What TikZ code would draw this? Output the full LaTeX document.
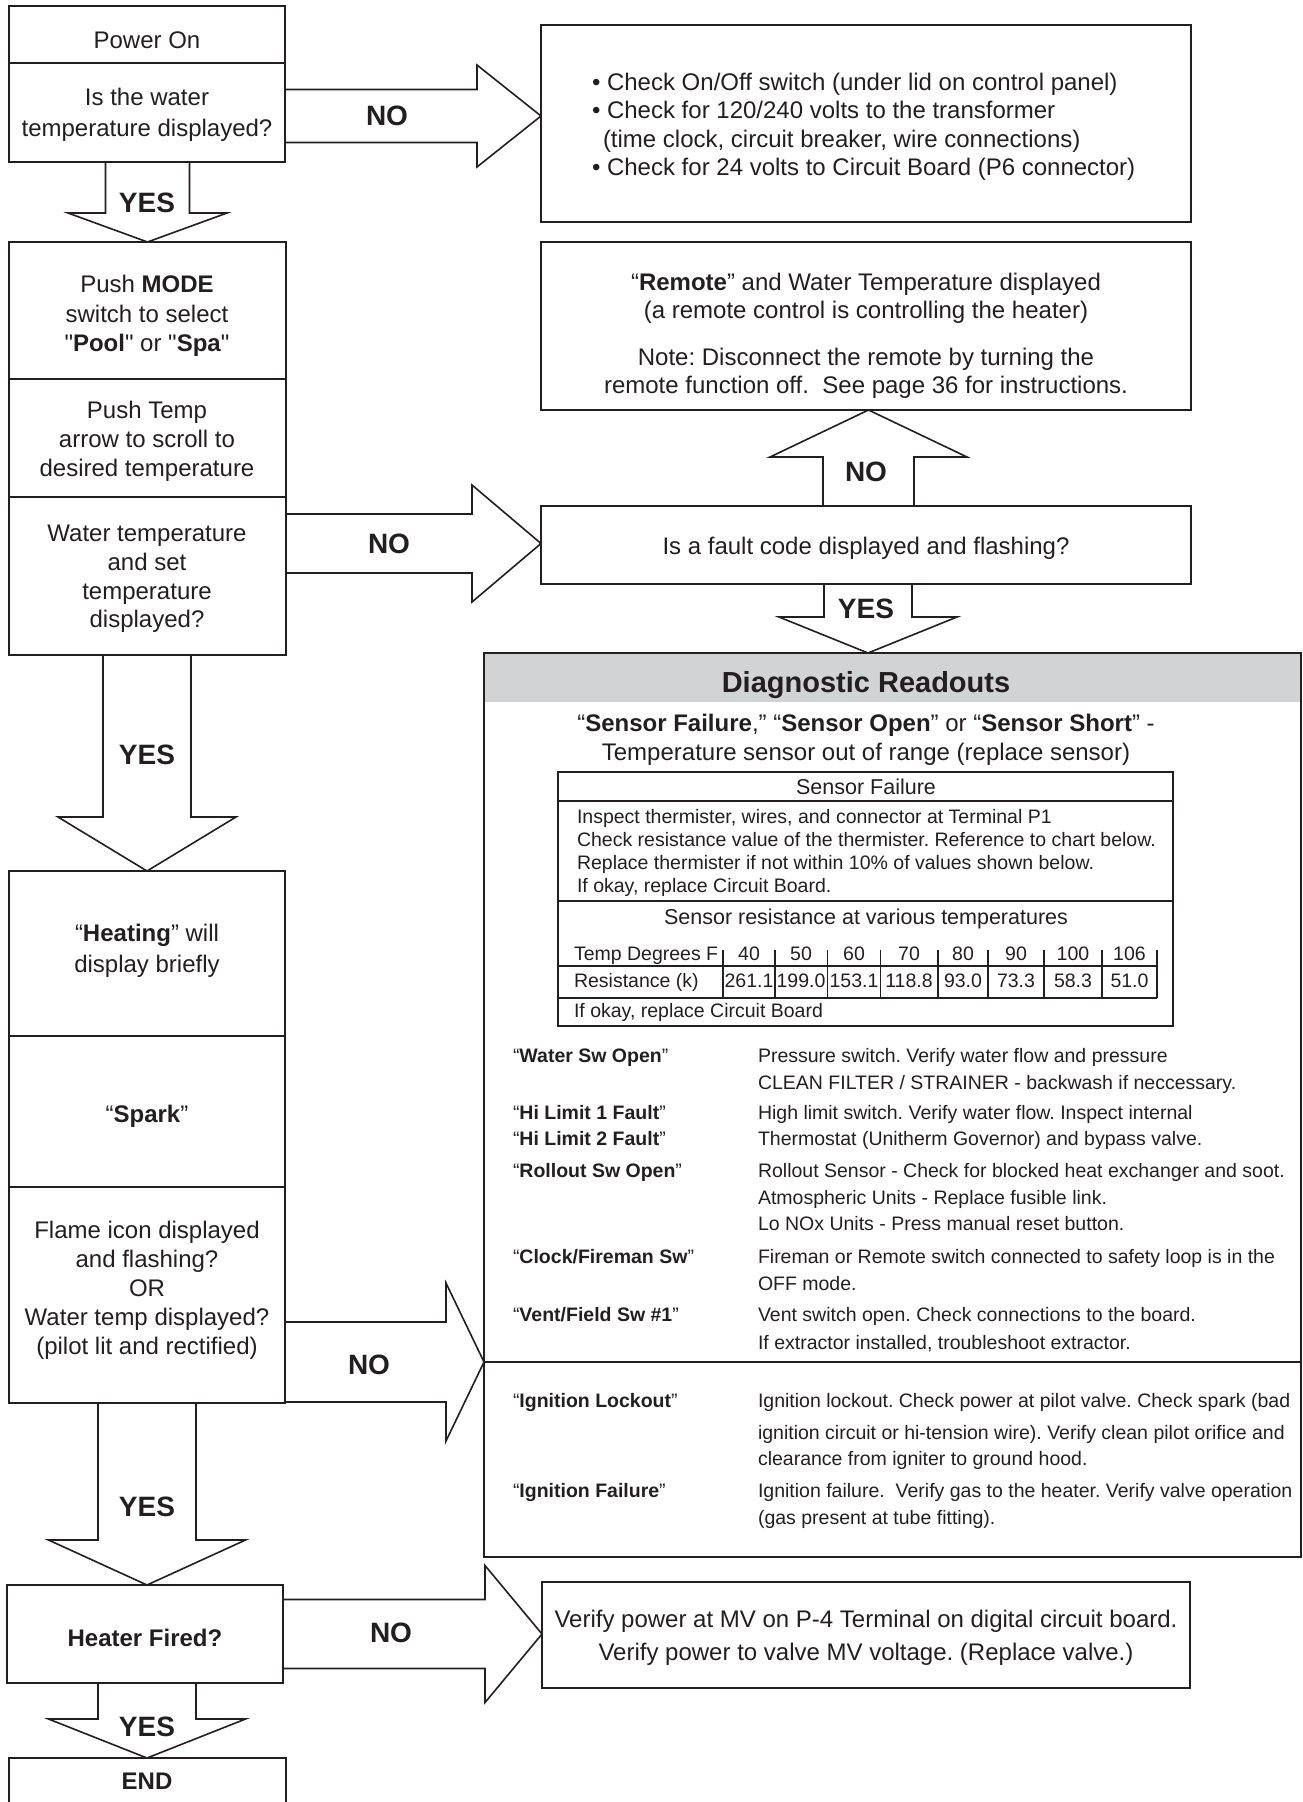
\documentclass[tikz,border=0pt]{standalone}
\usepackage{fontspec}
\setmainfont{Liberation Sans}
\newfontfamily\qfont{Liberation Sans}
\usetikzlibrary{calc,backgrounds}
\definecolor{ink}{HTML}{231F20}
\definecolor{hdr}{HTML}{D1D3D4}
\frenchspacing
\tikzset{
  cellst/.style={draw=ink, line width=2pt, inner sep=0pt, outer sep=0pt},
  tblst/.style={draw=ink, line width=1.5pt, inner sep=0pt, outer sep=0pt},
  tbl/.style={draw=ink, line width=1.4pt},
  arr/.style={draw=ink, fill=white, line width=1.6pt, line join=miter},
  tx/.style={inner sep=0pt, outer sep=0pt, text=ink, font=\fontsize{24}{29}\selectfont},
  lb/.style={inner sep=0pt, outer sep=0pt, text=ink, font=\bfseries\fontsize{28}{32}\selectfont},
  sm/.style={inner sep=0pt, outer sep=0pt, text=ink, font=\fontsize{19.5}{23}\selectfont},
  md/.style={inner sep=0pt, outer sep=0pt, text=ink, font=\fontsize{21.5}{25}\selectfont},
}
\newcommand{\cellbox}[6][cellst]{\node[#1,minimum width={(#5-#3)*1pt},minimum height={(#6-#4)*1pt}] (#2) at ({(#3+#5)/2},{(#4+#6)/2}) {};}
% block arrows: start, tip, shaft half width, head half width, head length
\newcommand{\ArrR}[5]{\path[arr] let \p1=(#1), \p2=(#2) in (\x1,\y2+#3pt) -- (\x2-#5pt,\y2+#3pt) -- (\x2-#5pt,\y2+#4pt) -- (\x2,\y2) -- (\x2-#5pt,\y2-#4pt) -- (\x2-#5pt,\y2-#3pt) -- (\x1,\y2-#3pt);}
\newcommand{\ArrD}[5]{\path[arr] let \p1=(#1), \p2=(#2) in (\x2-#3pt,\y1) -- (\x2-#3pt,\y2+#5pt) -- (\x2-#4pt,\y2+#5pt) -- (\x2,\y2) -- (\x2+#4pt,\y2+#5pt) -- (\x2+#3pt,\y2+#5pt) -- (\x2+#3pt,\y1);}
\newcommand{\ArrU}[5]{\path[arr] let \p1=(#1), \p2=(#2) in (\x2-#3pt,\y1) -- (\x2-#3pt,\y2-#5pt) -- (\x2-#4pt,\y2-#5pt) -- (\x2,\y2) -- (\x2+#4pt,\y2-#5pt) -- (\x2+#3pt,\y2-#5pt) -- (\x2+#3pt,\y1);}
\begin{document}
\frenchspacing
\begin{tikzpicture}[x=1pt,y=-1pt]
\begin{scope}[on background layer]
\fill[white] (0,0) rectangle (1303,1802);
\end{scope}
\useasboundingbox (0,0) rectangle (1303,1802);

% ---------- boxes ----------
\cellbox{pwr}{9}{6}{285}{63}
\cellbox{q1}{9}{63}{285}{162}
\cellbox{mode}{9}{242}{286}{379}
\cellbox{tmp}{9}{379}{286}{497}
\cellbox{q3}{9}{497}{286}{655}
\cellbox{heat}{9}{871}{285}{1036}
\cellbox{spark}{9}{1036}{285}{1187}
\cellbox{flame}{9}{1187}{285}{1403}
\cellbox{heater}{7}{1585}{283}{1683}
\cellbox{endb}{9}{1758}{286}{1825}
\cellbox{chk}{541}{25}{1191}{222}
\cellbox{remote}{541}{242}{1191}{410}
\cellbox{fault}{541}{506}{1191}{584}
\node[fill=hdr, inner sep=0pt, outer sep=0pt, minimum width=817pt, minimum height=49pt] (dhead) at (892.5,677.5) {};
\cellbox{diag}{484}{653}{1301}{1557}
\cellbox{verify}{542}{1582}{1190}{1688}
\cellbox[tblst]{sft}{558}{772}{1173}{1026}
\draw[cellst] (diag.west |- 0,1362) -- (diag.east |- 0,1362);

% table grid
\draw[tbl] (sft.west |- 0,801) -- (sft.east |- 0,801);
\draw[tbl] (sft.west |- 0,901) -- (sft.east |- 0,901);
\draw[tbl] (sft.west |- 0,966) -- (1157,966);
\draw[tbl] (sft.west |- 0,998) -- (1157,998);
\foreach \xx in {723,775,827.5,880.5,938,988,1044,1102,1157} {\draw[tbl] (\xx,950) -- (\xx,998);}

% ---------- block arrows ----------
\begin{scope}[on background layer]
\ArrR{q1.east}{chk.west |- 0,116}{26.5}{51}{64}
\ArrD{q1.south}{mode.north}{42}{79.5}{29}
\ArrR{q3.east}{fault.west |- 0,543.5}{29.5}{58.5}{69}
\ArrU{fault.north}{remote.south -| 868.5,0}{45.5}{98.5}{47}
\ArrD{fault.south}{diag.north -| 868,0}{44}{89}{36}
\ArrD{q3.south}{heat.north -| 147,0}{44}{89}{54}
\ArrR{flame.east}{diag.west |- 0,1362}{40}{79}{38}
\ArrD{flame.south}{heater.north -| 147,0}{49}{98.5}{45}
\ArrR{heater.east}{verify.west |- 0,1634}{34.5}{68.5}{57}
\ArrD{heater.south}{endb.north -| 147,0}{49}{98.5}{39}
\end{scope}

% ---------- arrow labels ----------
\node[lb, anchor=base] (lno1) at (387,125) {NO};
\node[lb, anchor=base] (lyes1) at (147,212) {YES};
\node[lb, anchor=base] (lno2) at (389,553) {NO};
\node[lb, anchor=base] (lnoup) at (866,481) {NO};
\node[lb, anchor=base] (lyesf) at (866,618) {YES};
\node[lb, anchor=base] (lyes2) at (147,764) {YES};
\node[lb, anchor=base] (lno3) at (369,1374) {NO};
\node[lb, anchor=base] (lyes3) at (147,1516) {YES};
\node[lb, anchor=base] (lno4) at (391,1642) {NO};
\node[lb, anchor=base] (lyes4) at (147,1736) {YES};

% ---------- left column texts ----------
\node[tx, anchor=base] (t1) at (147,48) {Power On};
\node[tx, anchor=base] (t2) at (147,105) {Is the water};
\node[tx, anchor=base] (t3) at (147,136) {temperature displayed?};
\node[tx, anchor=base] (t4) at (147,292) {Push \textbf{MODE}};
\node[tx, anchor=base] (t5) at (147,322) {switch to select};
\node[tx, anchor=base] (t6) at (147,351) {{\qfont"}\textbf{Pool}{\qfont"} or {\qfont"}\textbf{Spa}{\qfont"}};
\node[tx, anchor=base] (t7) at (147,418) {Push Temp};
\node[tx, anchor=base] (t8) at (147,447) {arrow to scroll to};
\node[tx, anchor=base] (t9) at (147,476) {desired temperature};
\node[tx, anchor=base] (t10) at (147,541) {Water temperature};
\node[tx, anchor=base] (t11) at (147,570) {and set};
\node[tx, anchor=base] (t12) at (147,599) {temperature};
\node[tx, anchor=base] (t13) at (147,627) {displayed?};
\node[tx, anchor=base] (t14) at (147,941) {“\textbf{Heating}” will};
\node[tx, anchor=base] (t15) at (147,972) {display briefly};
\node[tx, anchor=base] (t16) at (147,1122) {“\textbf{Spark}”};
\node[tx, anchor=base] (t17) at (147,1238) {Flame icon displayed};
\node[tx, anchor=base] (t18) at (147,1267) {and flashing?};
\node[tx, anchor=base] (t19) at (147,1296) {OR};
\node[tx, anchor=base] (t20) at (147,1325) {Water temp displayed?};
\node[tx, anchor=base] (t21) at (147,1354) {(pilot lit and rectified)};
\node[tx, anchor=base] (t22) at (145,1646) {\textbf{Heater Fired?}};
\node[tx, anchor=base] (t23) at (147,1789) {\textbf{END}};

% ---------- right texts ----------
\node[tx, anchor=base west] (r1) at (592,90) {• Check On/Off switch (under lid on control panel)};
\node[tx, anchor=base west] (r2) at (592,118) {• Check for 120/240 volts to the transformer};
\node[tx, anchor=base west] (r3) at (603,147) {(time clock, circuit breaker, wire connections)};
\node[tx, anchor=base west] (r4) at (592,175) {• Check for 24 volts to Circuit Board (P6 connector)};

\node[tx, anchor=base] (m1) at (866,290) {“\textbf{Remote}” and Water Temperature displayed};
\node[tx, anchor=base] (m2) at (866,318) {(a remote control is controlling the heater)};
\node[tx, anchor=base] (m3) at (866,365) {Note: Disconnect the remote by turning the};
\node[tx, anchor=base] (m4) at (866,393) {remote function off.\ \ See page 36 for instructions.};

\node[tx, anchor=base] (f1) at (866,554) {Is a fault code displayed and flashing?};

\node[inner sep=0pt, text=ink, font=\bfseries\fontsize{29}{34}\selectfont, anchor=base] (dh) at (866,692) {Diagnostic Readouts};
\node[tx, anchor=base] (d1) at (866,731) {“\textbf{Sensor Failure},” “\textbf{Sensor Open}” or “\textbf{Sensor Short}” -};
\node[tx, anchor=base] (d2) at (866,760) {Temperature sensor out of range (replace sensor)};

\node[md, anchor=base] (s0) at (866,794) {Sensor Failure};
\node[sm, anchor=base west] (s1) at (577,823) {Inspect thermister, wires, and connector at Terminal P1};
\node[sm, anchor=base west] (s2) at (577,846) {Check resistance value of the thermister. Reference to chart below.};
\node[sm, anchor=base west] (s3) at (577,869) {Replace thermister if not within 10\% of values shown below.};
\node[sm, anchor=base west] (s4) at (577,892) {If okay, replace Circuit Board.};
\node[md, anchor=base] (s5) at (866,924) {Sensor resistance at various temperatures};
\node[sm, anchor=base west] (s6) at (574,960) {Temp Degrees F};
\node[sm, anchor=base west] (s7) at (574,987) {Resistance (k)};
\node[sm, anchor=base west] (s8) at (574,1017) {If okay, replace Circuit Board};
\foreach \cx/\tv/\rv [count=\i] in {749/40/261.1, 801/50/199.0, 854/60/153.1, 909/70/118.8, 963/80/93.0, 1016/90/73.3, 1073/100/58.3, 1129.5/106/51.0} {
  \node[sm, anchor=base] (tv\i) at (\cx,960) {\tv};
  \node[sm, anchor=base] (rv\i) at (\cx,987) {\rv};
}

% diagnostic rows
\foreach \yy/\lab/\desc [count=\i] in {
 1062/{“\textbf{Water Sw Open}”}/{Pressure switch. Verify water flow and pressure},
 1089/{}/{CLEAN FILTER / STRAINER - backwash if neccessary.},
 1119/{“\textbf{Hi Limit 1 Fault}”}/{High limit switch. Verify water flow. Inspect internal},
 1145/{“\textbf{Hi Limit 2 Fault}”}/{Thermostat (Unitherm Governor) and bypass valve.},
 1177/{“\textbf{Rollout Sw Open}”}/{Rollout Sensor - Check for blocked heat exchanger and soot.},
 1204/{}/{Atmospheric Units - Replace fusible link.},
 1230/{}/{Lo NOx Units - Press manual reset button.},
 1263/{“\textbf{Clock/Fireman Sw}”}/{Fireman or Remote switch connected to safety loop is in the},
 1290/{}/{OFF mode.},
 1321/{“\textbf{Vent/Field Sw \#1}”}/{Vent switch open. Check connections to the board.},
 1349/{}/{If extractor installed, troubleshoot extractor.},
 1407/{“\textbf{Ignition Lockout}”}/{Ignition lockout. Check power at pilot valve. Check spark (bad},
 1439/{}/{ignition circuit or hi-tension wire). Verify clean pilot orifice and},
 1465/{}/{clearance from igniter to ground hood.},
 1497/{“\textbf{Ignition Failure}”}/{Ignition failure.\ \ Verify gas to the heater. Verify valve operation},
 1524/{}/{(gas present at tube fitting).}} {
  \node[sm, anchor=base west] (dl\i) at (513,\yy) {\lab};
  \node[sm, anchor=base west] (dd\i) at (758,\yy) {\desc};
}

\node[tx, anchor=base] (v1) at (866,1627) {Verify power at MV on P-4 Terminal on digital circuit board.};
\node[tx, anchor=base] (v2) at (866,1660) {Verify power to valve MV voltage. (Replace valve.)};
\end{tikzpicture}
\end{document}
